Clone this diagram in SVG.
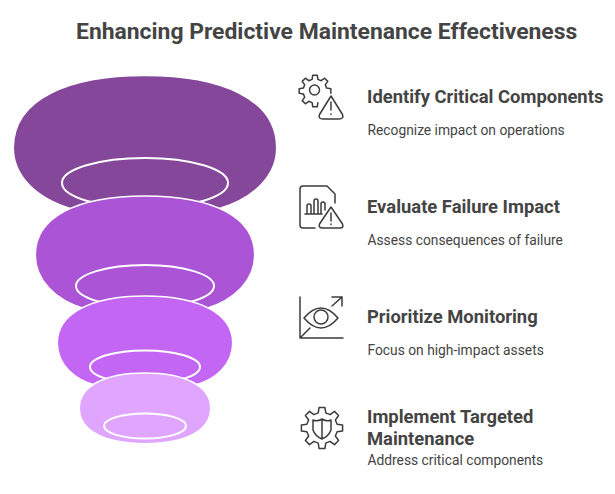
<svg xmlns="http://www.w3.org/2000/svg" width="615" height="494" viewBox="0 0 615 494">
<style>
text{font-family:Roboto,"Liberation Sans",sans-serif;fill:#444}
.t{font-size:22.9px;font-weight:700}
.h{font-size:18.4px;font-weight:700}
.d{font-size:13.8px;font-weight:400}
.ring{fill:none;stroke:#fff;stroke-width:2}
.lay{stroke:#fff;stroke-width:1.5}
.ic{fill:none;stroke:#3c3c3c;stroke-width:1.5;stroke-linecap:round;stroke-linejoin:round}
</style>
<rect width="615" height="494" fill="#fff"/>
<text class="t" x="76" y="39">Enhancing Predictive Maintenance Effectiveness</text>
<g id="layer1"><path class="lay" fill="#84479a" d="M145 75.500C220 75.500 276.700 98 276.700 148C276.700 175 255 198 218 209L190 216H100L72 209C35 198 13.300 175 13.300 148C13.300 98 70 75.500 145 75.500Z"/><ellipse class="ring" cx="145" cy="183" rx="83" ry="25"/></g>
<g id="layer2"><path class="lay" fill="#ab55d6" d="M145 196C215 196 254.700 218 254.700 255C254.700 280 235 300 205 309L185 314H105L85 309C55 300 35.300 280 35.300 255C35.300 218 75 196 145 196Z"/><ellipse class="ring" cx="145" cy="286" rx="69" ry="21"/></g>
<g id="layer3"><path class="lay" fill="#c466f4" d="M145 296C200 296 232.700 314 232.700 343C232.700 365 215 380 195 385L180 388H110L95 385C75 380 57.300 365 57.300 343C57.300 314 90 296 145 296Z"/><ellipse class="ring" cx="145" cy="367" rx="55" ry="16.5"/></g>
<g id="layer4"><path class="lay" fill="#e0a6ff" d="M145 373C185 373 210.700 386 210.700 408C210.700 431 185 443.700 145 443.700C105 443.700 79.300 431 79.300 408C79.300 386 105 373 145 373Z"/><ellipse class="ring" cx="145" cy="426" rx="41" ry="12.5"/></g>
<g id="item1">
<path class="ic" transform="translate(315 91)" d="M2.9 11.64L2.230 15.84L-2.23 15.84L-2.9 11.64L-6.18 10.28L-9.62 12.78L-12.78 9.62L-10.28 6.18L-11.64 2.9L-15.84 2.23L-15.84 -2.23L-11.64 -2.9L-10.28 -6.18L-12.78 -9.62L-9.62 -12.78L-6.18 -10.28L-2.9 -11.64L-2.23 -15.84L2.23 -15.84L2.9 -11.64L6.18 -10.28L9.62 -12.78L12.78 -9.62L10.28 -6.18L11.64 -2.9L15.84 -2.23L15.84 2.23"/>
<circle class="ic" cx="314.500" cy="90" r="5"/>
<path class="ic" d="M331 96L342.500 114.500Q344 119 339 119H323Q318 119 319.500 114.500Z"/>
<path class="ic" d="M331 102v8M331 114v.5"/>
<text class="h" x="367" y="103">Identify Critical Components</text>
<text class="d" x="367.500" y="135">Recognize impact on operations</text>
</g>
<g id="item2">
<path class="ic" d="M315 228H303Q300 228 300 225V189Q300 186 303 186H327L335 194V203"/>
<path class="ic" d="M305 214H322M307 214V206Q307 204 309 204T311 206V214M314 214V201Q314 199 316 199T318 201V214M321 214V204Q321 202 323 202T325 204V210"/>
<path class="ic" d="M331 207L342.500 224Q344 228 340 228H323Q318 228 319.500 224Z"/>
<path class="ic" d="M331 213v8M331 224v.5"/>
<text class="h" x="367" y="213">Evaluate Failure Impact</text>
<text class="d" x="367.500" y="245">Assess consequences of failure</text>
</g>
<g id="item3">
<path class="ic" d="M300 297V338H343M300 338L310 328M332 306L342 297M332 297H342V306"/>
<path class="ic" d="M304 318Q321 298 338 318Q321 338 304 318Z"/>
<circle class="ic" cx="321" cy="317" r="7"/>
<text class="h" x="367" y="323">Prioritize Monitoring</text>
<text class="d" x="367.500" y="355">Focus on high-impact assets</text>
</g>
<g id="item4">
<path class="ic" style="stroke-width:1.15" transform="translate(322 428) scale(1.3)" d="M11.64 -2.9L15.84 -2.23L15.84 2.23L11.64 2.9L10.28 6.18L12.78 9.62L9.62 12.78L6.18 10.28L2.9 11.64L2.23 15.84L-2.23 15.84L-2.9 11.64L-6.18 10.28L-9.62 12.78L-12.78 9.62L-10.28 6.18L-11.64 2.9L-15.84 2.23L-15.84 -2.23L-11.64 -2.9L-10.28 -6.18L-12.78 -9.62L-9.62 -12.78L-6.18 -10.28L-2.9 -11.64L-2.23 -15.84L2.23 -15.84L2.9 -11.64L6.18 -10.28L9.62 -12.78L12.78 -9.62L10.28 -6.18Z"/>
<path class="ic" d="M322 419Q327 422 331 420V430Q329 436 322 439Q315 436 313 430V420Q317 422 322 419ZM322 419V439"/>
<text class="h" x="367" y="423">Implement Targeted</text>
<text class="h" x="367" y="445">Maintenance</text>
<text class="d" x="367.500" y="465">Address critical components</text>
</g>
</svg>
